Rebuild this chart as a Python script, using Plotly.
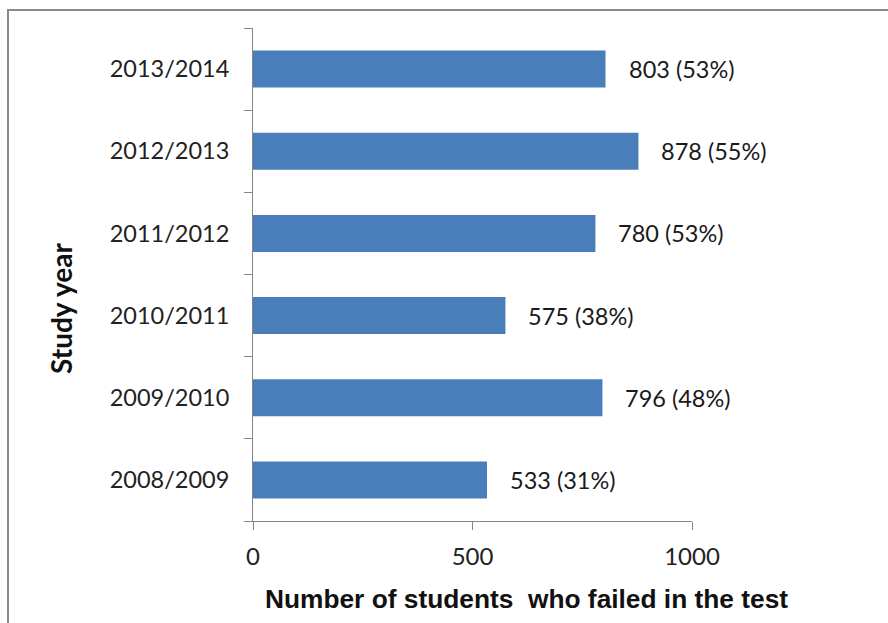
import plotly.graph_objects as go

# Students who failed the test, per study year
years = ["2008/2009", "2009/2010", "2010/2011", "2011/2012", "2012/2013", "2013/2014"]
failed = [533, 796, 575, 780, 878, 803]
failed_pct = [31, 48, 38, 53, 55, 53]
x_ticks = [0, 500, 1000]

W, H = 888, 623
L, R, T, B = 253, 196, 28, 102
plot_w = W - L - R
plot_h = H - T - B

BAR = "#4a7ebb"
AXIS = "#868686"
FONT = "Lato, Calibri, sans-serif"
TXT = "#1a1a1a"


def px_x(px):
    """pixel column -> paper x"""
    return (px - L) / plot_w


def px_y(py):
    """pixel row -> paper y"""
    return (H - B - py) / plot_h


fig = go.Figure(
    go.Bar(
        x=failed,
        y=years,
        orientation="h",
        marker=dict(color=BAR, line=dict(width=0)),
        hoverinfo="skip",
    )
)

# value labels to the right of each bar
for yr, v, p in zip(years, failed, failed_pct):
    fig.add_annotation(
        x=v, y=yr, xref="x", yref="y",
        text=f"{v} ({p}%)",
        showarrow=False, xanchor="left", xshift=21,
        font=dict(family=FONT, size=23.5, color=TXT),
    )

# axis titles
fig.add_annotation(
    x=px_x(526), y=px_y(599), xref="paper", yref="paper",
    text="<b>Number of students  who failed in the test</b>",
    showarrow=False, xanchor="center", yanchor="middle",
    font=dict(family="Liberation Sans, Arial, sans-serif", size=26.3, color="#111"),
)
fig.add_annotation(
    x=px_x(61), y=px_y(309), xref="paper", yref="paper",
    text="<b>Study year</b>", textangle=-90,
    showarrow=False, xanchor="center", yanchor="middle",
    font=dict(family=FONT, size=28, color="#111"),
)

# outer chart frame
fig.add_shape(
    type="rect", xref="paper", yref="paper",
    x0=px_x(8), x1=px_x(W + 20), y0=px_y(10), y1=px_y(H + 20),
    line=dict(color="#8a8a8a", width=2), fillcolor="rgba(0,0,0,0)",
    layer="below",
)

fig.update_layout(
    width=W, height=H,
    margin=dict(l=L, r=R, t=T, b=B, pad=0),
    paper_bgcolor="white", plot_bgcolor="white",
    bargap=0.55,
    showlegend=False,
    font=dict(family=FONT, color=TXT),
    xaxis=dict(
        range=[0, 1000],
        tickvals=x_ticks,
        ticktext=[str(t) for t in x_ticks],
        showgrid=False, zeroline=False,
        showline=True, linecolor=AXIS, linewidth=1,
        ticks="outside", ticklen=8, tickcolor=AXIS, tickwidth=1,
        tickfont=dict(family=FONT, size=24, color="#222"),
        ticklabelstandoff=6,
    ),
    yaxis=dict(
        type="category",
        categoryorder="array", categoryarray=years,
        showgrid=False, zeroline=False,
        showline=True, linecolor=AXIS, linewidth=1,
        ticks="outside", ticklen=8, tickcolor=AXIS, tickwidth=1,
        tickson="boundaries",
        tickfont=dict(family=FONT, size=23.5, color="#222"),
        ticklabelstandoff=18,
    ),
)

fig.write_html("out.html")
